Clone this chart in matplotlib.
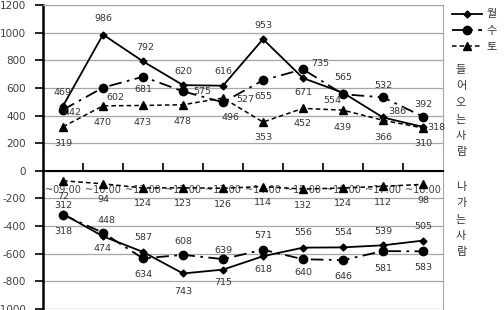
import numpy as np
import matplotlib
matplotlib.use("Agg")
import matplotlib.pyplot as plt
from matplotlib.lines import Line2D

plt.rcParams['font.family'] = ['DejaVu Sans', 'Noto Sans CJK KR']

hours = ["~09:00", "~10:00", "~11:00", "~12:00", "~13:00",
         "~14:00", "~15:00", "~16:00", "~17:00", "~18:00"]

# 들어오는 사람 (incoming)
in_mon = [469, 986, 792, 620, 616, 953, 671, 565, 386, 318]
in_wed = [442, 602, 681, 575, 496, 655, 735, 554, 532, 392]
in_sat = [319, 470, 473, 478, 527, 353, 452, 439, 366, 310]

# 나가는 사람 (outgoing)
out_mon = [312, 474, 587, 743, 715, 618, 556, 554, 539, 505]
out_wed = [318, 448, 634, 608, 639, 571, 640, 646, 581, 583]
out_sat = [72, 94, 124, 123, 126, 114, 132, 124, 112, 98]

# label offsets in pixels (dx, dy downward)
off_in_mon = [(0, -14), (0, -16), (2, -14), (0, -14), (0, -14), (0, -14), (0, 14), (0, -15), (14, -6), (13, 1)]
off_in_wed = [(10, 3), (12, 10), (0, 13), (19, 0), (7, 15), (0, 16), (17, -6), (-11, 6), (0, -12), (0, -12)]
off_in_sat = [(0, 17), (0, 17), (0, 17), (0, 17), (22, 2), (0, 15), (0, 15), (0, 17), (0, 17), (0, 16)]
off_out_mon = [(0, -8), (0, 12), (0, -14), (0, 18), (0, 13), (0, 13), (0, -15), (0, -15), (0, -14), (0, -14)]
off_out_wed = [(0, 17), (4, -12), (0, 16), (0, -13), (0, -9), (0, -14), (0, 13), (0, 16), (0, 17), (0, 16)]
off_out_sat = [(0, 16)] * 10

W, H = 504, 310
fig = plt.figure(figsize=(W / 100, H / 100), dpi=100)
ax = fig.add_axes([43 / W, 1 / H, 400 / W, 304 / H])

x = np.arange(len(hours))
styles = {
    "mon": dict(color="black", lw=1.3, ls="-", marker="D", ms=3.5),
    "wed": dict(color="black", lw=1.3, dashes=(7, 3, 1.5, 3), marker="o", ms=6),
    "sat": dict(color="black", lw=1.1, dashes=(3, 2), marker="^", ms=5.5),
}

series = [
    (in_mon, off_in_mon, "mon", 1), (in_wed, off_in_wed, "wed", 1), (in_sat, off_in_sat, "sat", 1),
    (out_mon, off_out_mon, "mon", -1), (out_wed, off_out_wed, "wed", -1), (out_sat, off_out_sat, "sat", -1),
]
for vals, offs, key, sign in series:
    y = sign * np.array(vals)
    ax.plot(x, y, zorder=3, **styles[key])
    for xi, yi, v, (dx, dy) in zip(x, y, vals, offs):
        ax.annotate(str(v), (xi, yi), xytext=(dx, -dy), textcoords="offset pixels",
                    ha="center", va="center", fontsize=6.8, color="#333333", zorder=4)

ax.set_xlim(-0.5, len(hours) - 0.5)
ax.set_ylim(-1000, 1200)
ax.set_yticks(np.arange(-1000, 1201, 200))
ax.set_yticklabels([str(v) for v in range(-1000, 1201, 200)])
ax.yaxis.grid(True, color="#a6a6a6", lw=0.9)
ax.set_axisbelow(True)

ax.spines["bottom"].set_position(("data", 0))
ax.spines["bottom"].set_linewidth(1.5)
ax.spines["left"].set_linewidth(1.8)
ax.spines["top"].set_color("#a6a6a6")
ax.spines["right"].set_color("#a6a6a6")

ax.set_xticks(np.arange(0.5, len(hours) - 1, 1))
ax.set_xticklabels([])
ax.set_xticks(x, minor=True)
ax.set_xticklabels(hours, minor=True)
ax.tick_params(axis="x", which="major", direction="in", length=6, width=1.2)
ax.tick_params(axis="x", which="minor", length=0, pad=10, labelsize=7, labelcolor="#404040")
ax.tick_params(axis="y", direction="out", length=6, width=1.2, pad=6, labelsize=7.5, labelcolor="#404040")

handles = [Line2D([], [], **styles[k]) for k in ("mon", "wed", "sat")]
fig.legend(handles, ["월", "수", "토"], loc="upper left", bbox_to_anchor=(448 / W, 1 - 5 / H),
           frameon=False, fontsize=8, handlelength=2.7, handletextpad=0.4, labelspacing=0.55,
           borderaxespad=0, labelcolor="#333333")

for i, ch in enumerate("들어오는사람"):
    fig.text(461 / W, 1 - (70 + i * 16.5) / H, ch, ha="center", va="center", fontsize=8, color="#333333")
for i, ch in enumerate("나가는사람"):
    fig.text(461 / W, 1 - (187 + i * 16.3) / H, ch, ha="center", va="center", fontsize=8, color="#333333")

fig.savefig("out.png", dpi=100)
